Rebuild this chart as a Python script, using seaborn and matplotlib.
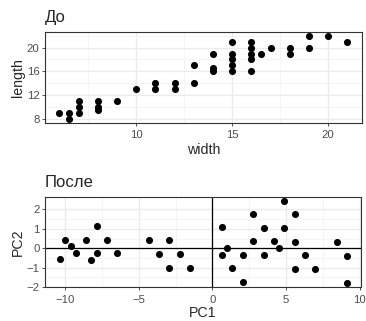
import numpy as np
import pandas as pd
import matplotlib
matplotlib.use("Agg")
import matplotlib.pyplot as plt
import seaborn as sns
from matplotlib.ticker import FixedLocator

# --- data: before (width, length) ---
width = [6, 6.5, 6.5, 7, 7, 7, 8, 8, 8, 9, 10, 11, 11, 12, 12, 13, 13,
         14, 14, 14, 15, 15, 15, 15, 15, 16, 16, 16, 16, 16, 16.5, 17,
         18, 18, 19, 19, 20, 21]
length = [9, 9, 8, 11, 10, 9, 11, 10, 9.5, 11, 13, 14, 13, 14, 13, 17, 14,
          19, 16.5, 16, 21, 19, 18, 17, 16, 21, 20, 19, 18, 16, 19, 20,
          20, 19, 22, 20, 22, 21]

# --- data: after (PC1, PC2) ---
pc1 = [-10.36, -10.0, -9.64, -9.28, -8.57, -8.24, -7.87, -7.87, -7.17, -6.47,
       -4.32, -3.62, -2.92, -2.92, -2.22, -1.52,
       0.63, 1.0, 0.63, 1.33, 2.06, 2.06, 2.78, 2.78, 3.48, 3.48, 4.19, 4.55,
       4.89, 4.89, 5.59, 5.59, 5.59, 6.29, 6.99, 8.44, 9.14, 9.14]
pc2 = [-0.58, 0.44, 0.12, -0.24, 0.44, -0.59, 1.15, -0.25, 0.44, -0.27,
       0.42, -0.29, 0.41, -1.0, -0.3, -1.0,
       1.07, 0.02, -0.34, -1.03, -0.34, -1.73, 1.76, 0.36, 1.05, -0.36, 0.36, 0.0,
       2.44, 1.03, 1.75, 0.34, -1.05, -0.37, -1.07, 0.32, -0.41, -1.81]

titles = ["До", "После"]

df1 = pd.DataFrame({"width": width, "length": length})
df2 = pd.DataFrame({"PC1": pc1, "PC2": pc2})

sns.set_theme(style="white")
plt.rcParams["font.family"] = ["Liberation Sans", "DejaVu Sans"]

fig = plt.figure(figsize=(3.66, 3.21), dpi=100)
W, H = 366, 321
def ax_at(x0, y0, x1, y1):
    return fig.add_axes([x0 / W, 1 - y1 / H, (x1 - x0) / W, (y1 - y0) / H])

ax1 = ax_at(45, 31.7, 361.7, 122.7)
ax2 = ax_at(45, 196.7, 360.7, 287.3)

def style(ax, xmaj, xmin, ymaj, ymin):
    ax.set_facecolor("white")
    ax.xaxis.set_major_locator(FixedLocator(xmaj))
    ax.xaxis.set_minor_locator(FixedLocator(xmin))
    ax.yaxis.set_major_locator(FixedLocator(ymaj))
    ax.yaxis.set_minor_locator(FixedLocator(ymin))
    ax.grid(True, which="major", color="#EBEBEB", linewidth=1.0, zorder=0)
    ax.grid(True, which="minor", color="#F3F3F3", linewidth=0.6, zorder=0)
    ax.set_axisbelow(True)
    for s in ax.spines.values():
        s.set_color("#333333")
        s.set_linewidth(0.8)
    ax.tick_params(axis="both", which="major", length=2.5, width=0.6,
                   color="#333333", labelsize=8.2, labelcolor="#4D4D4D", pad=1.5,
                   bottom=True, left=True)
    ax.tick_params(axis="x", which="major", pad=3)
    ax.tick_params(axis="both", which="minor", length=0)
    ax.xaxis.label.set_size(10.2)
    ax.yaxis.label.set_size(10.2)

sns.scatterplot(data=df1, x="width", y="length", ax=ax1, color="black",
                s=26, linewidth=0, zorder=3)
ax1.set_xlim(5.25, 21.75)
ax1.set_ylim(7.3, 22.7)
style(ax1, [10, 15, 20], [7.5, 12.5, 17.5], [8, 12, 16, 20], [10, 14, 18, 22])
ax1.set_xlabel("width", labelpad=2)
ax1.set_ylabel("length", labelpad=1)
ax1.set_title(titles[0], loc="left", fontsize=12, pad=7)

ax2.axhline(0, color="black", linewidth=0.9, zorder=2)
ax2.axvline(0, color="black", linewidth=0.9, zorder=2)
sns.scatterplot(data=df2, x="PC1", y="PC2", ax=ax2, color="black",
                s=26, linewidth=0, zorder=3)
ax2.set_xlim(-11.38, 10.08)
ax2.set_ylim(-2.02, 2.66)
style(ax2, [-10, -5, 0, 5, 10], [-7.5, -2.5, 2.5, 7.5],
      [-2, -1, 0, 1, 2], [-1.5, -0.5, 0.5, 1.5])
ax2.set_xlabel("PC1", labelpad=1)
ax2.set_ylabel("PC2", labelpad=1)
ax2.set_title(titles[1], loc="left", fontsize=12, pad=7)

fig.savefig("out.png", dpi=100)
